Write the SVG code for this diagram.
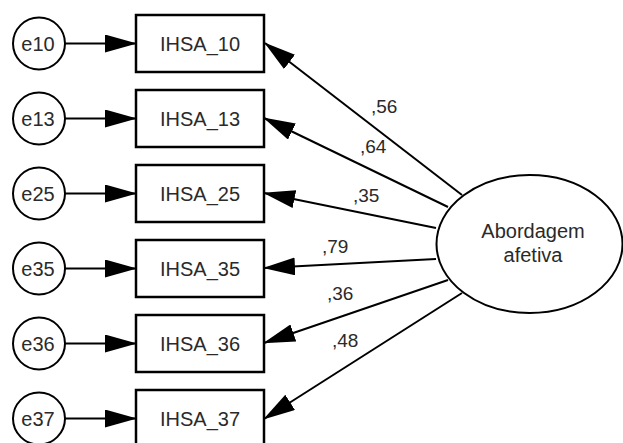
<svg xmlns="http://www.w3.org/2000/svg" width="623" height="443" viewBox="0 0 623 443">
  <style>
    .shape { fill: #ffffff; stroke: #000000; stroke-width: 2; }
    .box { fill: #ffffff; stroke: #000000; stroke-width: 2.5; }
    .link { stroke: #000000; stroke-width: 2; fill: none; marker-end: url(#head); }
    .lbl { font-family: "Liberation Sans", Arial, sans-serif; font-size: 20px; fill: #2a2a2a; }
    .mid { text-anchor: middle; }
    .coef { font-family: "Liberation Sans", Arial, sans-serif; font-size: 19px; fill: #2a2a2a; }
  </style>
  <defs>
    <marker id="head" markerUnits="userSpaceOnUse" viewBox="0 0 32 18" markerWidth="32" markerHeight="18" refX="31" refY="9" orient="auto">
      <path d="M0,0 L32,9 L0,18 Z" fill="#000000"/>
    </marker>
  </defs>

  <rect width="623" height="443" fill="#ffffff"/>

  <!-- connectors -->
  <g id="connectors">
    <!-- error terms to indicators -->
    <line class="link" x1="65" y1="43.5" x2="136" y2="43.5"/>
    <line class="link" x1="65" y1="118.5" x2="136" y2="118.5"/>
    <line class="link" x1="65" y1="193.5" x2="136" y2="193.5"/>
    <line class="link" x1="65" y1="268.5" x2="136" y2="268.5"/>
    <line class="link" x1="65" y1="343.5" x2="136" y2="343.5"/>
    <line class="link" x1="65" y1="418.5" x2="136" y2="418.5"/>
    <!-- factor loadings -->
    <line class="link" x1="462" y1="195" x2="265" y2="43"/>
    <line class="link" x1="448" y1="207" x2="264" y2="118"/>
    <line class="link" x1="436" y1="228" x2="264" y2="193"/>
    <line class="link" x1="436" y1="259" x2="264" y2="268"/>
    <line class="link" x1="448" y1="280" x2="264" y2="343"/>
    <line class="link" x1="462" y1="293" x2="264" y2="419"/>
    <!-- loading values -->
    <text class="coef" x="371" y="113">,56</text>
    <text class="coef" x="360" y="153">,64</text>
    <text class="coef" x="353" y="202">,35</text>
    <text class="coef" x="322" y="253">,79</text>
    <text class="coef" x="327" y="300">,36</text>
    <text class="coef" x="332" y="347">,48</text>
  </g>

  <!-- error terms -->
  <g id="e10"><circle class="shape" cx="39" cy="43.5" r="26"/><text class="lbl mid" x="38" y="50.5">e10</text></g>
  <g id="e13"><circle class="shape" cx="39" cy="118.5" r="26"/><text class="lbl mid" x="38" y="125.5">e13</text></g>
  <g id="e25"><circle class="shape" cx="39" cy="193.5" r="26"/><text class="lbl mid" x="38" y="200.5">e25</text></g>
  <g id="e35"><circle class="shape" cx="39" cy="268.5" r="26"/><text class="lbl mid" x="38" y="275.5">e35</text></g>
  <g id="e36"><circle class="shape" cx="39" cy="343.5" r="26"/><text class="lbl mid" x="38" y="350.5">e36</text></g>
  <g id="e37"><circle class="shape" cx="39" cy="418.5" r="26"/><text class="lbl mid" x="38" y="425.5">e37</text></g>

  <!-- observed indicators -->
  <g id="IHSA_10"><rect class="box" x="136" y="15" width="128" height="57"/><text class="lbl mid" x="200" y="50.5">IHSA_10</text></g>
  <g id="IHSA_13"><rect class="box" x="136" y="90" width="128" height="57"/><text class="lbl mid" x="200" y="125.5">IHSA_13</text></g>
  <g id="IHSA_25"><rect class="box" x="136" y="165" width="128" height="57"/><text class="lbl mid" x="200" y="200.5">IHSA_25</text></g>
  <g id="IHSA_35"><rect class="box" x="136" y="240" width="128" height="57"/><text class="lbl mid" x="200" y="275.5">IHSA_35</text></g>
  <g id="IHSA_36"><rect class="box" x="136" y="315" width="128" height="57"/><text class="lbl mid" x="200" y="350.5">IHSA_36</text></g>
  <g id="IHSA_37"><rect class="box" x="136" y="390" width="128" height="57"/><text class="lbl mid" x="200" y="425.5">IHSA_37</text></g>

  <!-- latent factor -->
  <g id="abordagem_afetiva">
    <ellipse class="shape" cx="529.5" cy="244" rx="93" ry="69"/>
    <text class="lbl mid" x="533" y="238">Abordagem</text>
    <text class="lbl mid" x="533" y="262">afetiva</text>
  </g>
</svg>
